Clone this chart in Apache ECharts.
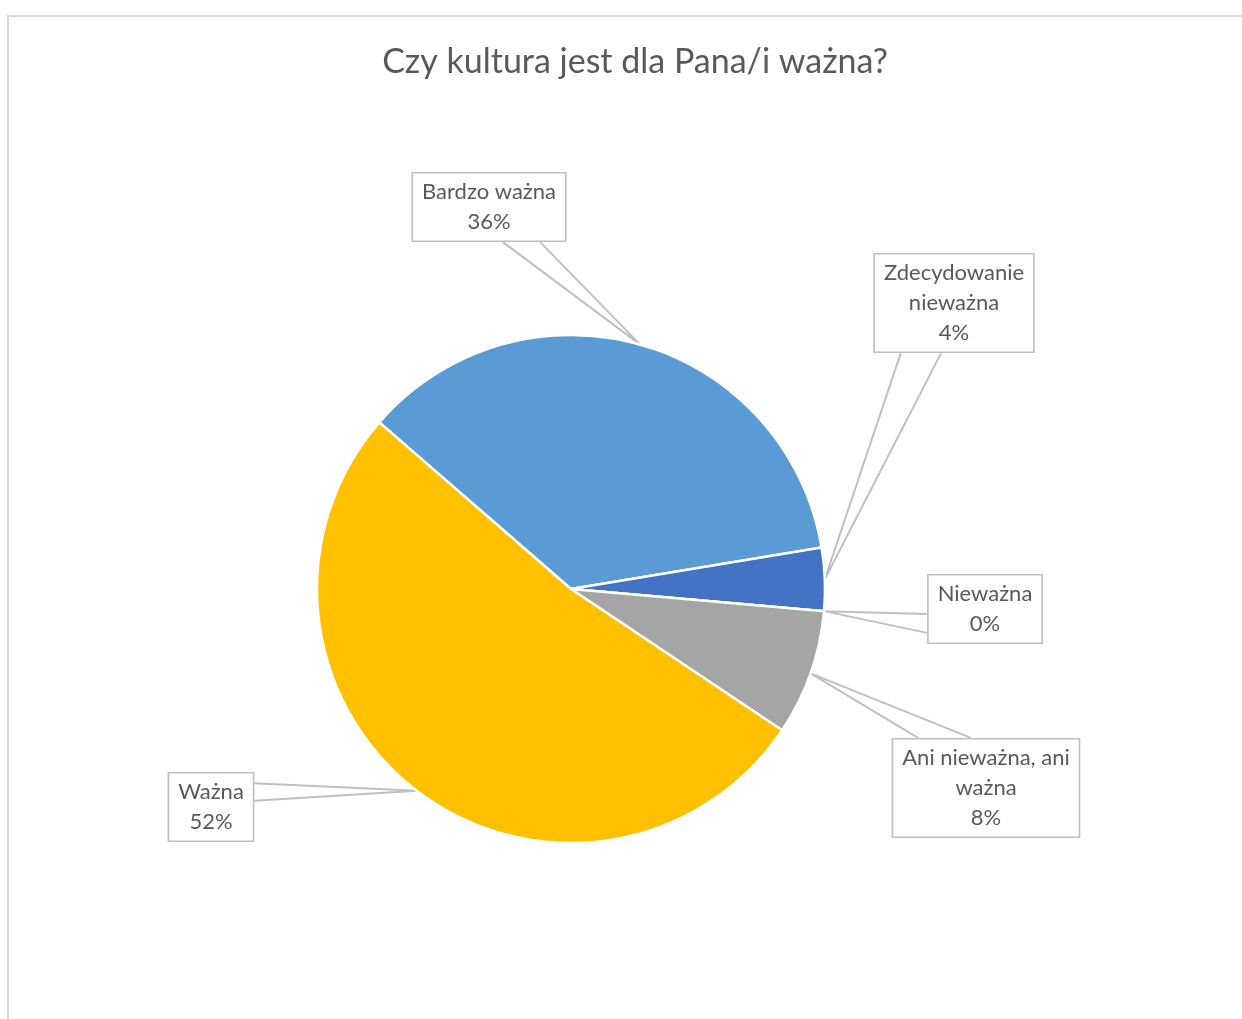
<!DOCTYPE html>
<html>
<head>
<meta charset="utf-8">
<script src="https://cdn.jsdelivr.net/npm/echarts@6/dist/echarts.min.js"></script>
<style>
html,body{margin:0;padding:0;background:#fff;}
#main{width:1242px;height:1019px;}
</style>
</head>
<body>
<div id="main"></div>
<script>
// ---- data ----
const titleText = 'Czy kultura jest dla Pana/i ważna?';
const categories = ['Bardzo ważna', 'Zdecydowanie nieważna', 'Nieważna', 'Ani nieważna, ani ważna', 'Ważna'];
const values = [36, 4, 0, 8, 52];
const colors = ['#5B9BD5', '#4472C4', '#ED7D31', '#A5A5A5', '#FFC000'];

// ---- layout (label box centres and callout wedge bases) ----
const boxCenters = [[489, 207], [954, 303], [985, 609], [986, 788], [211, 807]];
const wedges = [
  {side: 'bottom', a: 0.59, b: 0.83},
  {side: 'bottom', a: 0.17, b: 0.42},
  {side: 'left', a: 0.57, b: 0.84},
  {side: 'top', a: 0.14, b: 0.42},
  {side: 'right', a: 0.16, b: 0.41}
];

function wrap(s, max) {
  const words = s.split(' ');
  const lines = [];
  let cur = '';
  words.forEach(w => {
    const t = cur ? cur + ' ' + w : w;
    if (t.length > max && cur) { lines.push(cur); cur = w; } else { cur = t; }
  });
  if (cur) lines.push(cur);
  return lines.join('\n');
}

const chart = echarts.init(document.getElementById('main'), null, {renderer: 'canvas'});
const FONT = 'Lato, "Open Sans", sans-serif';

chart.setOption({
  backgroundColor: '#ffffff',
  animation: false,
  title: {
    text: titleText,
    left: 630,
    top: 40,
    textAlign: 'center',
    textStyle: {color: '#595959', fontFamily: FONT, fontSize: 34, fontWeight: 'normal'}
  },
  graphic: [{
    type: 'rect',
    shape: {x: 8, y: 16, width: 1400, height: 1200},
    style: {fill: 'none', stroke: '#d9d9d9', lineWidth: 2},
    silent: true
  }],
  series: [{
    type: 'pie',
    center: [571, 589],
    radius: 254,
    startAngle: 139,
    clockwise: true,
    avoidLabelOverlap: false,
    data: categories.map((c, i) => ({name: c, value: values[i], itemStyle: {color: colors[i]}})),
    itemStyle: {borderColor: '#ffffff', borderWidth: 2.5},
    label: {
      show: true,
      position: 'outside',
      formatter: p => wrap(p.name, 17) + '\n' + p.percent + '%',
      color: '#595959',
      fontFamily: FONT,
      fontSize: 22,
      lineHeight: 30,
      align: 'center',
      backgroundColor: '#ffffff',
      borderColor: '#bfbfbf',
      borderWidth: 1.6,
      padding: [4, 9, 3, 9]
    },
    labelLine: {
      show: true,
      length: 20,
      length2: 20,
      lineStyle: {color: '#c0c0c0', width: 2}
    },
    emphasis: {disabled: true},
    labelLayout: function (p) {
      const i = p.dataIndex;
      const c = boxCenters[i];
      const w = p.labelRect.width, h = p.labelRect.height;
      const L = c[0] - w / 2, T = c[1] - h / 2, R = L + w, B = T + h;
      const wd = wedges[i];
      let p1, p2;
      if (wd.side === 'bottom') { p1 = [L + w * wd.a, B]; p2 = [L + w * wd.b, B]; }
      else if (wd.side === 'top') { p1 = [L + w * wd.a, T]; p2 = [L + w * wd.b, T]; }
      else if (wd.side === 'left') { p1 = [L, T + h * wd.a]; p2 = [L, T + h * wd.b]; }
      else { p1 = [R, T + h * wd.a]; p2 = [R, T + h * wd.b]; }
      const tip = p.labelLinePoints ? p.labelLinePoints[0] : p1;
      return {
        x: c[0], y: c[1], align: 'center', verticalAlign: 'middle',
        labelLinePoints: [p1, tip, p2]
      };
    }
  }]
});
</script>
</body>
</html>
